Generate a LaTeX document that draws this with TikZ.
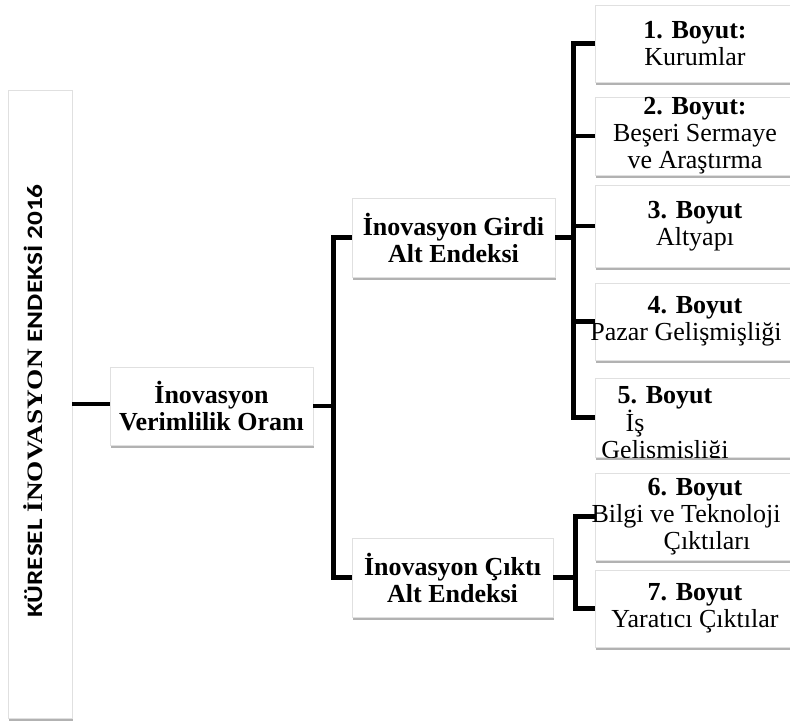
\documentclass[tikz,border=0pt]{standalone}
\usepackage{fontspec}
\setmainfont{Liberation Serif}
\newfontfamily\calibri{Carlito}
\usetikzlibrary{positioning,shadows}

\begin{document}
\begin{tikzpicture}[x=1pt, y=-1pt,
    box/.style={draw=black!12, fill=white, line width=0.8pt, inner sep=0pt,
      align=center, font=\fontsize{26}{27}\selectfont,
      drop shadow={shadow xshift=0.8pt, shadow yshift=-3pt, fill=black!30, opacity=1}},
    ustbox/.style={box, font=\fontsize{26}{27}\selectfont\bfseries},
    boyut/.style={box, minimum width=200pt},
    conn/.style={line width=4.2pt}]
  \useasboundingbox (0,0) rectangle (790,724);
  \node[box, minimum width=64pt, minimum height=628pt] (kuresel) at (40,404) {};
  \node[rotate=90, anchor=base, inner sep=0pt, font=\fontsize{22}{22}\selectfont\bfseries]
    (baslik) at (42,401)
    {\scalebox{1.24}[1]{{\calibri KÜRESEL} İNOVASYON {\calibri ENDEKSİ 2016}}};
  \node[ustbox, minimum width=203pt, minimum height=78pt] (verim) at (211.5,406)
    {İnovasyon\\Verimlilik Oranı};
  \node[ustbox, minimum width=203pt, minimum height=79pt] (girdi) at (453.5,237.5)
    {İnovasyon Girdi\\Alt Endeksi};
  \node[ustbox, minimum width=201pt, minimum height=79pt] (cikti) at (452.5,577.5)
    {İnovasyon Çıktı\\Alt Endeksi};
  \node[boyut, minimum height=77pt] (b1) at (695,43.5) {\textbf{1. Boyut:}\\Kurumlar};
  \node[boyut, minimum height=78pt] (b2) at (695,136)
    {\textbf{2. Boyut:}\\Beşeri Sermaye\\ve Araştırma};
  \node[boyut, minimum height=82pt] (b3) at (695,226) {\textbf{3. Boyut}\\Altyapı};
  \node[boyut, minimum height=77pt] (b4) at (695,321.5)
    {\textbf{4. Boyut}\\\hspace*{-18pt}Pazar Gelişmişliği};
  \node[boyut, minimum height=79pt] (b5) at (695,417.5) {};
  \begin{scope}
    \clip (b5.north west) rectangle (b5.south east);
    \node[anchor=north, inner sep=0pt, align=center, font=\fontsize{26}{27}\selectfont]
      (b5metin) at (665,386) {\textbf{5. Boyut}\\\hspace*{-60pt}İş\\Gelişmişliği};
  \end{scope}
  \node[boyut, minimum height=87pt] (b6) at (695,516.5)
    {\textbf{6. Boyut}\\\hspace*{-18pt}Bilgi ve Teknoloji\\\hspace*{24pt}Çıktıları};
  \node[boyut, minimum height=77pt] (b7) at (695,608.5)
    {\textbf{7. Boyut}\\Yaratıcı Çıktılar};
  \draw[conn] (kuresel.east) -- (kuresel.east -| verim.west);
  \draw[conn] (verim.east) -- ++(20,0) coordinate (vj);
  \draw[conn] (girdi.west) -| (vj) |- (cikti.west);
  \draw[conn] (girdi.east) -- ++(18,0) coordinate (gj);
  \draw[conn] (b1.west) -| (gj) |- (b5.west);
  \foreach \b in {b2,b3,b4}
    \draw[conn] (gj |- \b.west) -- (\b.west);
  \draw[conn] (cikti.east) -- ++(22,0) coordinate (cj);
  \draw[conn] (b6.west) -| (cj) |- (b7.west);
\end{tikzpicture}
\end{document}
